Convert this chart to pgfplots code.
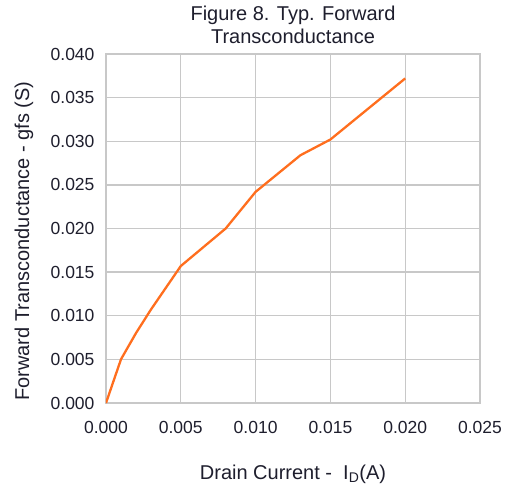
\documentclass[border=0pt]{standalone}
\usepackage{fontspec}
\setmainfont{Liberation Sans}
\usepackage{pgfplots}
\pgfplotsset{compat=1.18}
\definecolor{gridgray}{RGB}{200,200,200}
\definecolor{lineorange}{RGB}{255,110,30}
\definecolor{txt}{RGB}{30,30,45}
\begin{document}
\begin{tikzpicture}[x=1pt,y=1pt]
\path[use as bounding box] (0,0) rectangle (512,488);
\begin{axis}[
  at={(106pt,85pt)}, anchor=south west,
  scale only axis, width=374pt, height=349pt,
  xmin=0, xmax=0.025, ymin=0, ymax=0.040,
  xtick={0,0.005,0.010,0.015,0.020,0.025}, ytick={0,0.005,0.010,0.015,0.020,0.025,0.030,0.035,0.040},
  grid=major, major grid style={gridgray, line width=1.3pt},
  axis line style={gridgray, line width=1.3pt},
  tick style={draw=none},
  scaled ticks=false,
  /pgf/number format/assume math mode=true,
  /pgf/number format/fixed, /pgf/number format/fixed zerofill, /pgf/number format/precision=3,
  ticklabel style={font=\fontsize{17.5}{19}\selectfont, text=txt},
  xticklabel style={yshift=-15pt},
  yticklabel style={xshift=-8pt},
  xlabel={Drain Current -~ I\textsubscript{D}(A)},
  ylabel={Forward Transconductance - gfs (S)},
  label style={font=\fontsize{20}{22}\selectfont, text=txt},
  xlabel style={at={(0.5,0)}, anchor=center, yshift=-71pt},
  ylabel style={at={(0,0.464)}, anchor=center, yshift=82pt},
  title={Figure 8. Typ. Forward\\Transconductance},
  title style={font=\fontsize{20}{23}\selectfont, text=txt, align=center, at={(0.5,1)}, anchor=south, yshift=1pt},
]
\addplot[lineorange, line width=2.3pt] coordinates {
  (0,0) (0.001,0.0050) (0.002,0.0080) (0.003,0.0107) (0.005,0.0157)
  (0.008,0.0200) (0.010,0.0242) (0.013,0.0284) (0.015,0.0302) (0.020,0.0372)
};
\end{axis}
\end{tikzpicture}
\end{document}
